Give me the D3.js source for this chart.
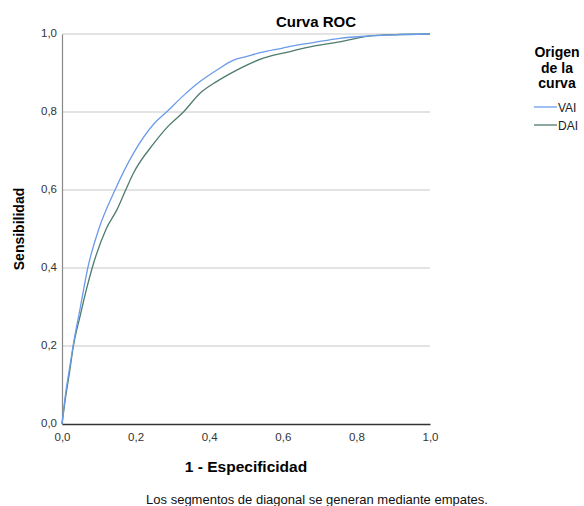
<!DOCTYPE html>
<html>
<head>
<script src="https://d3js.org/d3.v7.min.js"></script>
<style>
  body { margin: 0; background: #fff; }
  text { font-family: "Liberation Sans", Arial, sans-serif; }
</style>
</head>
<body>
<script>
// valores (1 - especificidad, sensibilidad)
var vaiFpr = [0, 0.01, 0.02, 0.03, 0.05, 0.07, 0.1, 0.144, 0.194, 0.25, 0.284, 0.33, 0.375, 0.42, 0.466, 0.5, 0.538, 0.6, 0.62, 0.683, 0.755, 0.837, 0.9, 1];
var vaiTpr = [0, 0.08, 0.14, 0.2, 0.3, 0.4, 0.5, 0.6, 0.694, 0.77, 0.8, 0.842, 0.878, 0.907, 0.933, 0.942, 0.952, 0.964, 0.968, 0.978, 0.989, 0.995, 0.998, 1];
var daiFpr = [0, 0.01, 0.02, 0.031, 0.05, 0.065, 0.082, 0.12, 0.149, 0.173, 0.194, 0.25, 0.29, 0.33, 0.375, 0.42, 0.466, 0.547, 0.62, 0.683, 0.755, 0.837, 0.9, 1];
var daiTpr = [0, 0.07, 0.13, 0.2, 0.28, 0.34, 0.4, 0.5, 0.549, 0.6, 0.643, 0.72, 0.765, 0.8, 0.848, 0.878, 0.903, 0.938, 0.955, 0.969, 0.98, 0.995, 0.998, 1];
var ticks = [0, 0.2, 0.4, 0.6, 0.8, 1.0];
var series = [
  {name: "VAI", color: "#6b9bea", fpr: vaiFpr, tpr: vaiTpr},
  {name: "DAI", color: "#4d7b6e", fpr: daiFpr, tpr: daiTpr}
];

var svg = d3.select("body").append("svg").attr("width", 584).attr("height", 506);

var x = d3.scaleLinear().domain([0, 1]).range([62, 430]);
var y = d3.scaleLinear().domain([0, 1]).range([424, 34]);
var fmt = function(d) { return d3.format(".1f")(d).replace(".", ","); };

// lineas de rejilla
svg.append("g").selectAll("line").data(ticks.slice(1)).enter().append("line")
  .attr("x1", x(0)).attr("x2", x(1))
  .attr("y1", function(d) { return y(d); }).attr("y2", function(d) { return y(d); })
  .attr("stroke", "#c8c8c8").attr("stroke-width", 1.2);

var gy = svg.append("g").attr("transform", "translate(62,0)")
  .call(d3.axisLeft(y).tickValues(ticks).tickFormat(fmt).tickSize(0).tickPadding(5));
gy.select(".domain").attr("stroke", "#888").attr("stroke-width", 1.2);
gy.selectAll("text").attr("fill", "#333").style("font-size", "11.5px")
  .style("font-family", "Liberation Sans, Arial, sans-serif").attr("dy", "0.25em");

var gx = svg.append("g").attr("transform", "translate(0,424)")
  .call(d3.axisBottom(x).tickValues(ticks).tickFormat(fmt).tickSize(0).tickPadding(9));
gx.select(".domain").attr("stroke", "#333").attr("stroke-width", 1.3);
gx.selectAll("text").attr("fill", "#333").style("font-size", "11.5px")
  .style("font-family", "Liberation Sans, Arial, sans-serif");

var line = d3.line()
  .curve(d3.curveMonotoneX)
  .x(function(d) { return x(d[0]); })
  .y(function(d) { return y(d[1]); });

series.slice().reverse().forEach(function(s) {
  svg.append("path")
    .datum(d3.zip(s.fpr, s.tpr))
    .attr("d", line)
    .attr("fill", "none")
    .attr("stroke", s.color)
    .attr("stroke-width", 1.3);
});

// textos
svg.append("text").attr("x", 316).attr("y", 27).attr("text-anchor", "middle")
  .style("font-size", "15px").style("font-weight", "bold").text("Curva ROC");
svg.append("text").attr("transform", "translate(24,229) rotate(-90)").attr("text-anchor", "middle")
  .style("font-size", "14px").style("font-weight", "bold").text("Sensibilidad");
svg.append("text").attr("x", 246).attr("y", 472).attr("text-anchor", "middle")
  .style("font-size", "15.5px").style("font-weight", "bold").text("1 - Especificidad");
svg.append("text").attr("x", 317).attr("y", 504).attr("text-anchor", "middle")
  .style("font-size", "13px").attr("fill", "#111").text("Los segmentos de diagonal se generan mediante empates.");

// leyenda
var legTitle = ["Origen", "de la", "curva"];
svg.append("g").selectAll("text").data(legTitle).enter().append("text")
  .attr("x", 557).attr("y", function(d, i) { return 57 + i * 15.5; })
  .attr("text-anchor", "middle").style("font-size", "14px").style("font-weight", "bold")
  .text(function(d) { return d; });

var leg = svg.append("g").selectAll("g").data(series).enter().append("g")
  .attr("transform", function(d, i) { return "translate(0," + (107 + i * 18) + ")"; });
leg.append("line").attr("x1", 534).attr("x2", 557)
  .attr("stroke", function(d) { return d.color; }).attr("stroke-width", 1.3);
leg.append("text").attr("x", 558).attr("y", 5).style("font-size", "12px").attr("fill", "#222")
  .text(function(d) { return d.name; });
</script>
</body>
</html>
